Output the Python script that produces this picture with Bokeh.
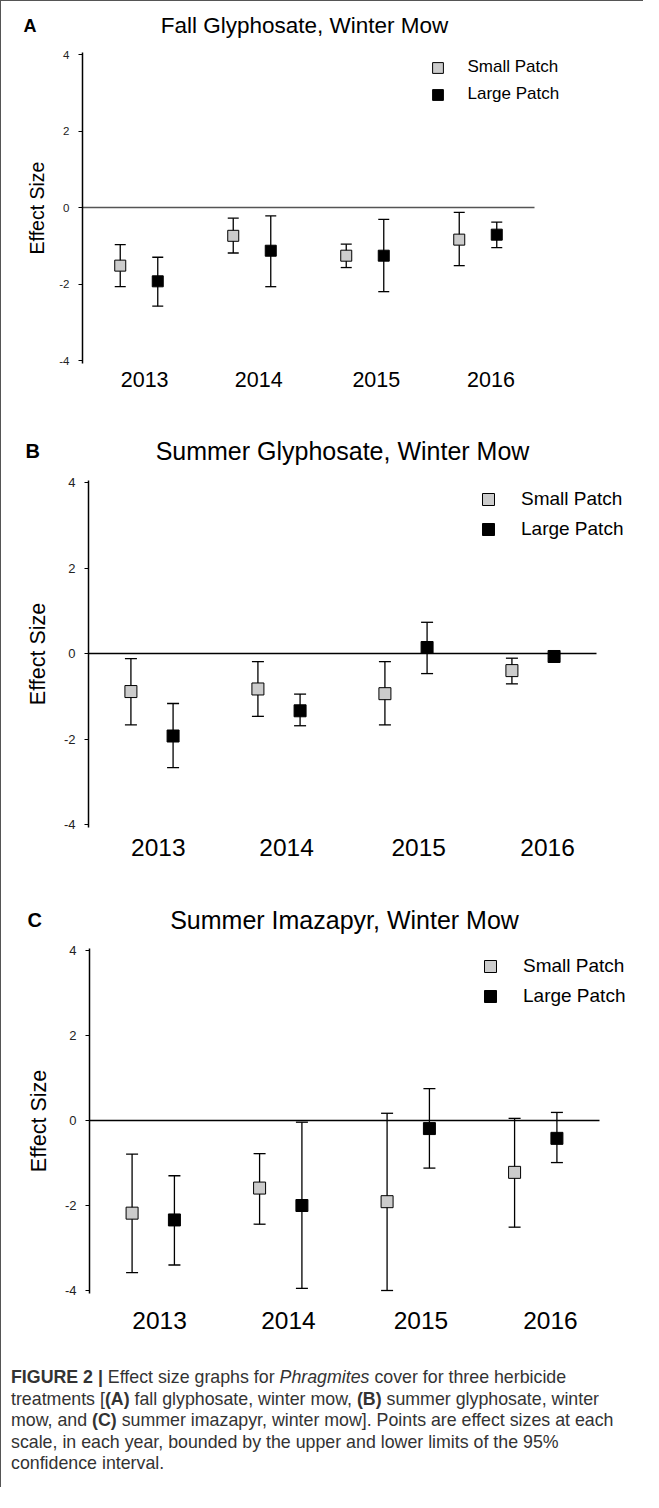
from bokeh.plotting import figure
from bokeh.models import (ColumnDataSource, Range1d, FixedTicker, Label,
                          Legend, LegendItem, Whisker, TeeHead, Div)
from bokeh.layouts import column
from bokeh.embed import file_html
from bokeh.resources import INLINE

# ---------------- data ----------------
years = ["2013", "2014", "2015", "2016"]
series = ["Small Patch", "Large Patch"]
y_ticks = [-4, -2, 0, 2, 4]

# Panel A: Fall Glyphosate, Winter Mow
a_small_mean = [-1.52, -0.74, -1.26, -0.84]
a_small_lo = [-2.07, -1.19, -1.57, -1.52]
a_small_hi = [-0.97, -0.28, -0.96, -0.13]
a_large_mean = [-1.93, -1.13, -1.26, -0.71]
a_large_lo = [-2.58, -2.07, -2.20, -1.05]
a_large_hi = [-1.30, -0.22, -0.31, -0.38]

# Panel B: Summer Glyphosate, Winter Mow
b_small_mean = [-0.89, -0.83, -0.94, -0.40]
b_small_lo = [-1.67, -1.47, -1.67, -0.71]
b_small_hi = [-0.12, -0.19, -0.19, -0.11]
b_large_mean = [-1.93, -1.34, 0.14, -0.07]
b_large_lo = [-2.67, -1.69, -0.47, -0.12]
b_large_hi = [-1.17, -0.95, 0.73, -0.02]

# Panel C: Summer Imazapyr, Winter Mow
c_small_mean = [-2.18, -1.59, -1.91, -1.22]
c_small_lo = [-3.58, -2.44, -4.00, -2.51]
c_small_hi = [-0.79, -0.78, 0.17, 0.05]
c_large_mean = [-2.34, -2.00, -0.19, -0.42]
c_large_lo = [-3.40, -3.95, -1.12, -0.99]
c_large_hi = [-1.30, -0.04, 0.75, 0.19]

# ---------------- styling / layout ----------------
FONT = "Liberation Sans"
DODGE = 0.166
X_DOMAIN = (-0.5, 3.5)
Y_DOMAIN = (-4, 4)
AXIS_BOUNDS = (-4.08, 4.05)
LABEL_POS = [0.05, 1.06, 2.10, 3.115]
CANVAS_LEFT = 9
CANVAS_W = 642


def make_panel(letter, title, small, large, L):
    top, H = L["top"], L["H"]
    ux = (L["xr"] - L["ax"]) / (X_DOMAIN[1] - X_DOMAIN[0])
    uy = (L["ym4"] - L["y4"]) / (Y_DOMAIN[1] - Y_DOMAIN[0])
    x0 = X_DOMAIN[0] - (L["ax"] - CANVAS_LEFT) / ux
    x1 = X_DOMAIN[0] + (CANVAS_LEFT + CANVAS_W - L["ax"]) / ux
    y1 = Y_DOMAIN[1] + (L["y4"] - top) / uy
    y0 = Y_DOMAIN[1] - (top + H - L["y4"]) / uy

    def sx(px):
        return px - CANVAS_LEFT

    def sy(py):
        return top + H - py

    p = figure(width=CANVAS_W, height=H,
               min_border_left=0, min_border_right=0, min_border_top=0, min_border_bottom=0,
               x_range=Range1d(x0, x1), y_range=Range1d(y0, y1),
               output_backend="svg", toolbar_location=None,
               background_fill_color="white", border_fill_color="white")
    p.title.visible = False
    p.outline_line_color = None
    p.grid.visible = False

    # y axis at the left end of the data domain
    ya = p.yaxis[0]
    ya.fixed_location = X_DOMAIN[0]
    ya.bounds = AXIS_BOUNDS
    ya.ticker = FixedTicker(ticks=y_ticks)
    ya.major_label_overrides = {t: str(t) for t in y_ticks}
    ya.axis_line_color = "black"
    ya.axis_line_width = 1.5
    ya.major_tick_line_color = "black"
    ya.major_tick_line_width = 1
    ya.major_tick_in = 0
    ya.major_tick_out = 4
    ya.minor_tick_line_color = None
    ya.major_label_standoff = 9
    ya.major_label_text_font = FONT
    ya.major_label_text_font_size = L["tick_fs"]
    ya.major_label_text_color = "#222222"
    ya.axis_label = "Effect Size"
    ya.axis_label_text_font = FONT
    ya.axis_label_text_font_style = "normal"
    ya.axis_label_text_font_size = L["ylab_fs"]
    ya.axis_label_text_color = "black"
    ya.axis_label_standoff = L["ylab_standoff"]

    # year labels below the bottom of the y domain
    xa = p.xaxis[0]
    xa.fixed_location = Y_DOMAIN[0]
    xa.ticker = FixedTicker(ticks=LABEL_POS)
    xa.major_label_overrides = {pos: yr for pos, yr in zip(LABEL_POS, years)}
    xa.axis_line_color = None
    xa.major_tick_line_color = None
    xa.minor_tick_line_color = None
    xa.major_tick_out = 0
    xa.major_tick_in = 0
    xa.major_label_standoff = L["year_standoff"]
    xa.major_label_text_font = FONT
    xa.major_label_text_font_size = L["year_fs"]
    xa.major_label_text_color = "black"

    # zero reference line across the data domain
    p.segment(x0=[X_DOMAIN[0]], y0=[0], x1=[X_DOMAIN[1]], y1=[0],
              line_color=L["zero_color"], line_width=L["zero_w"])

    renderers = []
    for (mean, lo, hi), off, fill in [(small, -DODGE, "#cccccc"), (large, DODGE, "black")]:
        src = ColumnDataSource(dict(x=[i + off for i in range(len(years))],
                                    mean=mean, lo=lo, hi=hi))
        p.add_layout(Whisker(source=src, base="x", upper="hi", lower="lo",
                             dimension="height", line_color="black", line_width=1.3,
                             upper_head=TeeHead(size=L["cap"], line_color="black", line_width=1.3),
                             lower_head=TeeHead(size=L["cap"], line_color="black", line_width=1.3)))
        r = p.scatter("x", "mean", source=src, marker="square", size=L["ms"],
                      fill_color=fill, line_color="black", line_width=1)
        renderers.append(r)

    gh = L["gh"]
    leg_left = L["leg_x"] - gh / 2
    leg_bottom = L["leg_y"] - gh / 2 + 2 * gh + L["leg_spacing"]
    legend = Legend(items=[LegendItem(label=series[0], renderers=[renderers[0]]),
                           LegendItem(label=series[1], renderers=[renderers[1]])],
                    location=(sx(leg_left), sy(leg_bottom)), orientation="vertical",
                    glyph_width=gh, glyph_height=gh, label_height=gh - 6,
                    spacing=L["leg_spacing"], padding=0, margin=0,
                    label_standoff=int(L["leg_text_x"] - (leg_left + gh)),
                    label_text_font=FONT, label_text_font_size=L["leg_fs"],
                    label_text_color="black",
                    border_line_color=None, background_fill_alpha=0)
    p.add_layout(legend)

    p.add_layout(Label(x=sx(L["title_x"]), y=sy(L["title_y"]), x_units="screen", y_units="screen",
                       text=title, text_align="center", text_baseline="middle",
                       text_font=FONT, text_font_size=L["title_fs"], text_color="black"))
    p.add_layout(Label(x=sx(L["letter_x"]), y=sy(L["title_y"]), x_units="screen", y_units="screen",
                       text=letter, text_align="left", text_baseline="middle",
                       text_font=FONT, text_font_style="bold",
                       text_font_size=L["letter_fs"], text_color="black"))
    return p


LA = dict(top=9, H=411, ax=90, xr=542, y4=62, ym4=368,
          tick_fs="11.5px", ylab_fs="19.5px", ylab_standoff=8,
          year_fs="21.5px", year_standoff=11,
          zero_color="#555555", zero_w=1.5, cap=11, ms=11,
          gh=27, leg_spacing=-5, leg_x=445, leg_y=80, leg_text_x=476, leg_fs="17px",
          title_x=312, title_y=33, title_fs="22.5px", letter_x=31, letter_fs="18px")
LB = dict(top=420, H=475, ax=96, xr=604, y4=490, ym4=832,
          tick_fs="13px", ylab_fs="21.5px", ylab_standoff=11,
          year_fs="24.5px", year_standoff=14,
          zero_color="black", zero_w=1.3, cap=12, ms=12,
          gh=30, leg_spacing=-6, leg_x=496, leg_y=513, leg_text_x=529, leg_fs="19px",
          title_x=350, title_y=458, title_fs="25px", letter_x=33, letter_fs="20px")
LC = dict(top=895, H=480, ax=97, xr=607, y4=958, ym4=1298,
          tick_fs="13px", ylab_fs="21.5px", ylab_standoff=11,
          year_fs="24.5px", year_standoff=21,
          zero_color="black", zero_w=1.3, cap=12, ms=12,
          gh=30, leg_spacing=-6, leg_x=498, leg_y=980, leg_text_x=531, leg_fs="19px",
          title_x=352, title_y=927, title_fs="25px", letter_x=35, letter_fs="20px")

pA = make_panel("A", "Fall Glyphosate, Winter Mow",
                (a_small_mean, a_small_lo, a_small_hi), (a_large_mean, a_large_lo, a_large_hi), LA)
pB = make_panel("B", "Summer Glyphosate, Winter Mow",
                (b_small_mean, b_small_lo, b_small_hi), (b_large_mean, b_large_lo, b_large_hi), LB)
pC = make_panel("C", "Summer Imazapyr, Winter Mow",
                (c_small_mean, c_small_lo, c_small_hi), (c_large_mean, c_large_lo, c_large_hi), LC)

caption_html = (
    "<b>FIGURE 2 |</b> Effect size graphs for <i>Phragmites</i> cover for three herbicide<br>"
    "treatments [<b>(A)</b> fall glyphosate, winter mow, <b>(B)</b> summer glyphosate, winter<br>"
    "mow, and <b>(C)</b> summer imazapyr, winter mow]. Points are effect sizes at each<br>"
    "scale, in each year, bounded by the upper and lower limits of the 95%<br>"
    "confidence interval."
)
cap = Div(text=caption_html, width=632, height=120,
          styles={"font-family": FONT, "font-size": "17.8px", "line-height": "21.5px",
                  "color": "#333333", "white-space": "nowrap", "padding-left": "10px",
                  "margin": "0"})

layout = column(pA, pB, pC, cap,
                styles={"border-top": "1px solid #555555", "border-left": "1px solid #555555"})

open("out.html", "w").write(file_html(layout, INLINE))
